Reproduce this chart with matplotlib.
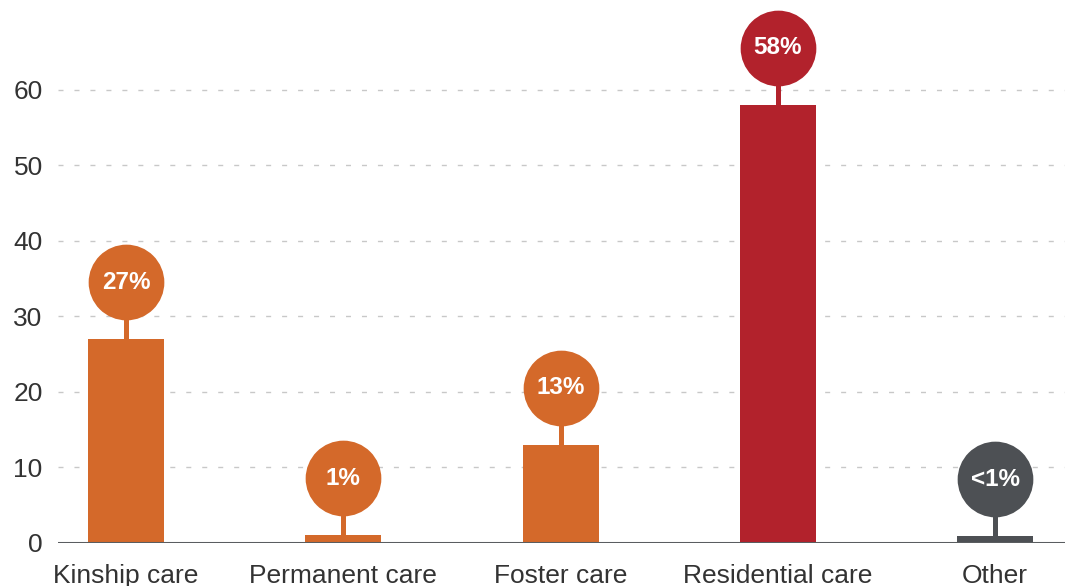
import matplotlib
matplotlib.use("Agg")
import matplotlib.pyplot as plt

# --- placement of children in out-of-home care (%) ---
categories = ["Kinship care", "Permanent care", "Foster care", "Residential care", "Other"]
values = [27, 1, 13, 58, 0.9]
value_labels = ["27%", "1%", "13%", "58%", "<1%"]
bar_colors = ["#D4692A", "#D4692A", "#D4692A", "#B2222C", "#4D5054"]
yticks = [0, 10, 20, 30, 40, 50, 60]

plt.rcParams['font.family'] = ['Liberation Sans', 'DejaVu Sans']

fig = plt.figure(figsize=(10.65, 5.86), dpi=100)
ax = fig.add_axes([58 / 1065, 43 / 586, 1 - 58 / 1065, 1 - 43 / 586])

x = list(range(len(categories)))
ax.bar(x, values, width=0.35, color=bar_colors, zorder=3)

# lollipop bubbles sitting above each bar
offset = 7.55
for xi, v, lab, c in zip(x, values, value_labels, bar_colors):
    ax.plot([xi, xi], [v, v + offset], color=c, lw=3.6, solid_capstyle="butt", zorder=3)
    ax.scatter([xi], [v + offset], s=2970, color=c, linewidths=0, zorder=4)
    ax.text(xi, v + offset, lab, ha="center", va="center", color="white",
            fontsize=17.5, fontweight="bold", zorder=5)

ax.set_xlim(-0.313, 4.322)
ax.set_ylim(0, 71.9)
ax.set_yticks(yticks)
ax.set_xticks(x)
ax.set_xticklabels(categories)
ax.tick_params(axis="both", length=0, labelsize=19, labelcolor="#333333")
ax.tick_params(axis="y", pad=11)
ax.tick_params(axis="x", pad=15)

for y in yticks[1:]:
    ax.axhline(y, color="#c8c8c8", lw=1, dashes=(3.6, 7.9), zorder=1)
ax.axhline(0, color="#5A5D60", lw=2.2, zorder=4)

for s in ax.spines.values():
    s.set_visible(False)

fig.savefig("out.png", dpi=100)
